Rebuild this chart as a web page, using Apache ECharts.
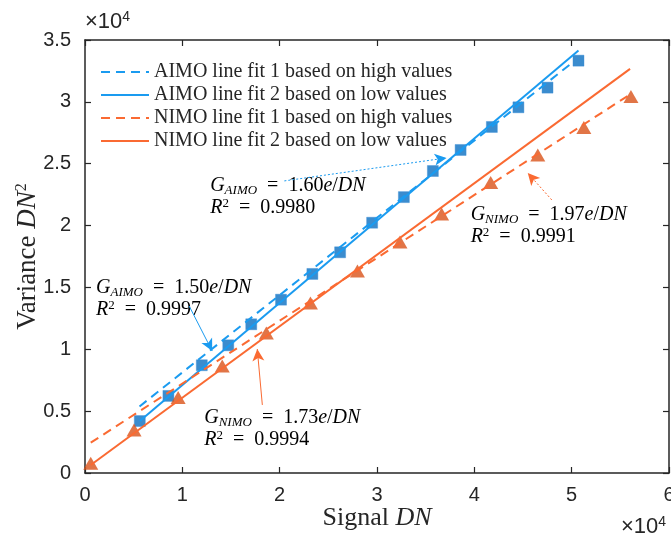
<!DOCTYPE html>
<html>
<head>
<meta charset="utf-8">
<script src="https://cdn.jsdelivr.net/npm/echarts@6/dist/echarts.min.js"></script>
<style>
  html, body { margin: 0; padding: 0; background: #fff; }
  #eCharts { width: 671px; height: 536px; }
</style>
</head>
<body>
<div id="eCharts"></div>
<script>
// measured points (DN, DN^2)
const aimoSignal = [5630, 8570, 12000, 14720, 17080, 20140, 23360, 26210, 29500, 32760, 35740, 38590, 41800, 44530, 47520, 50700]
const aimoVariance = [4200, 6230, 8710, 10320, 12020, 14010, 16090, 17840, 20230, 22300, 24410, 26110, 27970, 29560, 31150, 33330]
const nimoSignal = [590, 5040, 9570, 14100, 18630, 23160, 27990, 32360, 36640, 41680, 46520, 51250, 56090]
const nimoVariance = [780, 3480, 6100, 8650, 11320, 13750, 16330, 18680, 20940, 23490, 25710, 27920, 30430]

// fitted lines, end points
const aimoFit1 = [[5600, 5380], [50000, 33130]]
const aimoFit2 = [[5630, 4200], [50700, 34150]]
const nimoFit1 = [[590, 2450], [56000, 30600]]
const nimoFit2 = [[590, 650], [56000, 32670]]

const fitNames = [
  'AIMO line fit 1 based on high values',
  'AIMO line fit 2 based on low values',
  'NIMO line fit 1 based on high values',
  'NIMO line fit 2 based on low values',
]

const xTicks = ['0', '1', '2', '3', '4', '5', '6']
const yTicks = ['0', '0.5', '1', '1.5', '2', '2.5', '3', '3.5']

// annotations: text anchor, arrow from, arrow to (data units)
const notes = [
  {who: 'AIMO', gain: '1.60', r2: '0.9980', at: [12860, 23200], from: [20480, 23610], to: [37150, 25470], dot: true, color: '#1a9bf0'},
  {who: 'AIMO', gain: '1.50', r2: '0.9997', at: [1130, 14950], from: [10700, 13500], to: [13070, 9860], dot: false, color: '#1a9bf0'},
  {who: 'NIMO', gain: '1.73', r2: '0.9994', at: [12250, 4450], from: [18220, 5500], to: [17700, 10020], dot: false, color: '#fa6a32'},
  {who: 'NIMO', gain: '1.97', r2: '0.9991', at: [39620, 20860], from: [47960, 22070], to: [45490, 24250], dot: true, color: '#fa6a32'},
]

const blueLine = '#1a9bf0'
const blueMark = '#0a6fc2'
const orangeLine = '#fa6a32'
const orangeMark = '#d95319'
const axisColor = '#262626'
const serif = 'Liberation Serif'
const sans = 'Liberation Sans'

function pairs(xs, ys) {
  return xs.map((x, i) => [x, ys[i]])
}

function fitSeries(name, pts, color, dashed, arrows) {
  return {
    name: name,
    type: 'line',
    data: pts,
    symbol: 'none',
    z: 3,
    lineStyle: {color: color, width: 2, type: dashed ? [9, 6] : 'solid'},
    itemStyle: {color: color},
    markLine: arrows,
  }
}

function arrowLines(list) {
  return {
    silent: true,
    symbol: ['none', 'arrow'],
    symbolSize: [9, 12],
    label: {show: false},
    data: list.map(n => [
      {coord: n.from, lineStyle: {color: n.color, width: 1, type: n.dot ? [2, 2] : 'solid'}},
      {coord: n.to},
    ]),
  }
}

function plot() {
  const xAxisBase = {
    type: 'value', min: 0, max: 60000, interval: 10000,
    axisLine: {show: true, onZero: false, lineStyle: {color: axisColor, width: 1.5}},
    axisTick: {show: true, inside: true, length: 6, lineStyle: {color: axisColor, width: 1.2}},
    splitLine: {show: false},
  }
  const yAxisBase = {
    type: 'value', min: 0, max: 35000, interval: 5000,
    axisLine: {show: true, onZero: false, lineStyle: {color: axisColor, width: 1.5}},
    axisTick: {show: true, inside: true, length: 6, lineStyle: {color: axisColor, width: 1.2}},
    splitLine: {show: false},
  }

  const option = {
    animation: false,
    backgroundColor: '#fff',
    grid: {left: 85, right: 2, top: 40, bottom: 63, containLabel: false, outerBoundsMode: 'none'},
    legend: {
      data: fitNames,
      orient: 'vertical',
      left: 95,
      top: 57,
      itemWidth: 48,
      itemHeight: 14,
      itemGap: 3,
      itemStyle: {opacity: 0},
      textStyle: {fontFamily: serif, fontSize: 20, color: '#262626'},
    },
    xAxis: [
      Object.assign({}, xAxisBase, {
        position: 'bottom',
        name: '{t|Signal }{i|DN}',
        nameLocation: 'middle',
        nameGap: 32,
        nameMoveOverlap: false,
        nameTextStyle: {
          rich: {
            t: {fontFamily: serif, fontSize: 26, color: '#262626'},
            i: {fontFamily: serif, fontSize: 26, fontStyle: 'italic', color: '#262626'},
          },
        },
        axisLabel: {
          fontFamily: sans, fontSize: 20, color: '#262626', margin: 12,
          formatter: v => xTicks[Math.round(v / 10000)],
        },
      }),
      Object.assign({}, xAxisBase, {position: 'top', axisLabel: {show: false}}),
    ],
    yAxis: [
      Object.assign({}, yAxisBase, {
        position: 'left',
        name: '{t|Variance }{i|DN}{s|2}',
        nameLocation: 'middle',
        nameGap: 44,
        nameMoveOverlap: false,
        nameRotate: 90,
        nameTextStyle: {
          rich: {
            t: {fontFamily: serif, fontSize: 27, color: '#262626'},
            i: {fontFamily: serif, fontSize: 27, fontStyle: 'italic', color: '#262626'},
            s: {fontFamily: serif, fontSize: 16, color: '#262626', verticalAlign: 'top'},
          },
        },
        axisLabel: {
          fontFamily: sans, fontSize: 20, color: '#262626', margin: 14,
          formatter: v => yTicks[Math.round(v / 5000)],
        },
      }),
      Object.assign({}, yAxisBase, {position: 'right', axisLabel: {show: false}}),
    ],
    series: [
      fitSeries(fitNames[0], aimoFit1, blueLine, true, arrowLines([notes[0]])),
      fitSeries(fitNames[1], aimoFit2, blueLine, false, arrowLines([notes[1]])),
      fitSeries(fitNames[2], nimoFit1, orangeLine, true, arrowLines([notes[3]])),
      fitSeries(fitNames[3], nimoFit2, orangeLine, false, arrowLines([notes[2]])),
      {
        name: 'AIMO',
        type: 'scatter',
        data: pairs(aimoSignal, aimoVariance),
        symbol: 'rect',
        symbolSize: 11,
        z: 2,
        itemStyle: {color: blueMark, borderColor: '#3d8fd6', borderWidth: 0.5},
      },
      {
        name: 'NIMO',
        type: 'scatter',
        data: pairs(nimoSignal, nimoVariance),
        symbol: 'triangle',
        symbolSize: [15, 13],
        z: 2,
        itemStyle: {color: orangeMark},
      },
    ],
  }

  var myChart = echarts.init(document.getElementById('eCharts'))
  myChart.setOption(option)

  // annotation texts placed from data coordinates
  const rich = {
    i: {fontFamily: serif, fontSize: 20, fontStyle: 'italic', color: '#262626', lineHeight: 22},
    t: {fontFamily: serif, fontSize: 20, color: '#262626', lineHeight: 22},
    sub: {fontFamily: serif, fontSize: 13, fontStyle: 'italic', color: '#262626', verticalAlign: 'bottom', lineHeight: 22, padding: [8, 0, 0, 0]},
    sup: {fontFamily: serif, fontSize: 13, color: '#262626', verticalAlign: 'top', lineHeight: 22, padding: [0, 0, 8, 0]},
  }
  const graphic = notes.map(n => {
    const p = myChart.convertToPixel({gridIndex: 0}, n.at)
    return {
      type: 'text',
      x: p[0],
      y: p[1] - 11,
      style: {
        text: '{i|G}{sub|' + n.who + '}{t|  =  ' + n.gain + '}{i|e}{t|/}{i|DN}\n{i|R}{sup|2}{t|  =  ' + n.r2 + '}',
        rich: rich,
        verticalAlign: 'top',
      },
      silent: true,
    }
  })
  const tenRich = {p: {fontFamily: sans, fontSize: 14, verticalAlign: 'top', padding: [0, 0, 9, 0]}}
  graphic.push({
    type: 'text', left: 85, top: 10,
    style: {text: '×10{p|4}', fontFamily: sans, fontSize: 22, fill: '#262626', rich: tenRich},
  })
  graphic.push({
    type: 'text', left: 621, top: 515,
    style: {text: '×10{p|4}', fontFamily: sans, fontSize: 22, fill: '#262626', rich: tenRich},
  })
  myChart.setOption({graphic: graphic})
}

plot()
</script>
</body>
</html>
